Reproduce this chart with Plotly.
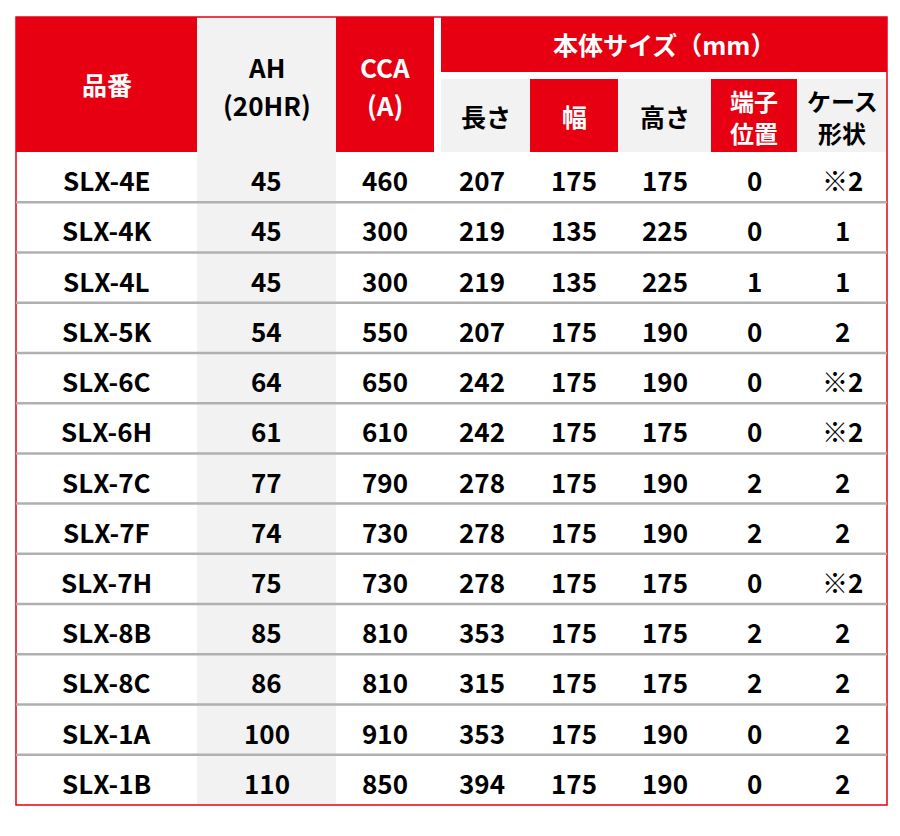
import plotly.graph_objects as go

models = ["SLX-4E","SLX-4K","SLX-4L","SLX-5K","SLX-6C","SLX-6H","SLX-7C","SLX-7F","SLX-7H","SLX-8B","SLX-8C","SLX-1A","SLX-1B"]
ah = [45,45,45,54,64,61,77,74,75,85,86,100,110]
cca = [460,300,300,550,650,610,790,730,730,810,810,910,850]
length = [207,219,219,207,242,242,278,278,278,353,315,353,394]
width = [175,135,135,175,175,175,175,175,175,175,175,175,175]
height = [175,225,225,190,190,175,190,190,175,175,175,190,190]
terminal = [0,0,1,0,0,0,2,2,0,2,2,0,0]
case = ["※2","1","1","2","※2","※2","2","2","※2","2","2","2","2"]

RED = "#e60012"; GRAY = "#f2f2f2"; LINE = "#b0b0b0"
FONT = "Noto Sans CJK JP"
O = 8  # page body margin offset
cols = [c - O for c in [16,197,336,434,530,618,711,797,887]]
top, hmid, sub, hbot, bot = [v - O for v in [17, 72, 79, 152, 805]]
sx = 441 - O
rh = (bot-hbot)/len(models)

shapes = []; ann = []
def rect(x0,y0,x1,y1,c):
    shapes.append(dict(type="rect",x0=x0,x1=x1,y0=y0,y1=y1,fillcolor=c,line=dict(width=0),layer="below"))
def txt(x,y,t,c="black",s=26):
    ann.append(dict(x=x,y=y,text=f"<b>{t}</b>",showarrow=False,font=dict(family=FONT,size=s,color=c),xanchor="center",yanchor="middle"))

rect(cols[0],top,cols[1],hbot,RED)
rect(cols[1],top,cols[2],bot,GRAY)
rect(cols[2],top,cols[3],hbot,RED)
rect(sx,top,cols[8],hmid,RED)
rect(sx,sub,cols[4],hbot,GRAY)
rect(cols[4],sub,cols[5],hbot,RED)
rect(cols[5],sub,cols[6],hbot,GRAY)
rect(cols[6],sub,cols[7],hbot,RED)
rect(cols[7],sub,cols[8],hbot,GRAY)
shapes.append(dict(type="rect",x0=cols[0],x1=cols[8],y0=top,y1=bot,line=dict(color=RED,width=1.5)))

txt((cols[0]+cols[1])/2,84-O,"品番","white",25)
txt((cols[1]+cols[2])/2,66-O,"AH","black",26)
txt((cols[1]+cols[2])/2,104-O,"(20HR)","black",26)
txt((cols[2]+cols[3])/2,66-O,"CCA","white",26)
txt((cols[2]+cols[3])/2,104-O,"(A)","white",26)
txt((sx+cols[8])/2,44-O,"本体サイズ（mm）","white",25)
subs = [["長さ"],["幅"],["高さ"],["端子","位置"],["ケース","形状"]]
subc = ["black","white","black","white","black"]
for i,(s,c) in enumerate(zip(subs,subc)):
    x0 = sx if i==0 else cols[4+i-1]
    xc = (x0+cols[4+i])/2
    if len(s)==1:
        txt(xc,116-O,s[0],c,25)
    else:
        txt(xc,100-O,s[0],c,24)
        txt(xc,132-O,s[1],c,24)

rows = list(zip(models,ah,cca,length,width,height,terminal,case))
for r,row in enumerate(rows):
    yc = hbot + rh*(r+0.55)
    for j,v in enumerate(row):
        txt((cols[j]+cols[j+1])/2, yc, v, "black", 26)
    if r>0:
        y = hbot + rh*r
        shapes.append(dict(type="line",x0=cols[0],x1=cols[8],y0=y,y1=y,line=dict(color=LINE,width=2.5)))

fig = go.Figure()
fig.update_layout(width=900,height=836,margin=dict(l=0,r=0,t=0,b=0),
    plot_bgcolor="white",paper_bgcolor="white",shapes=shapes,annotations=ann,
    xaxis=dict(range=[0,900],visible=False,fixedrange=True),
    yaxis=dict(range=[836,0],visible=False,fixedrange=True))
fig.write_html("out.html")
